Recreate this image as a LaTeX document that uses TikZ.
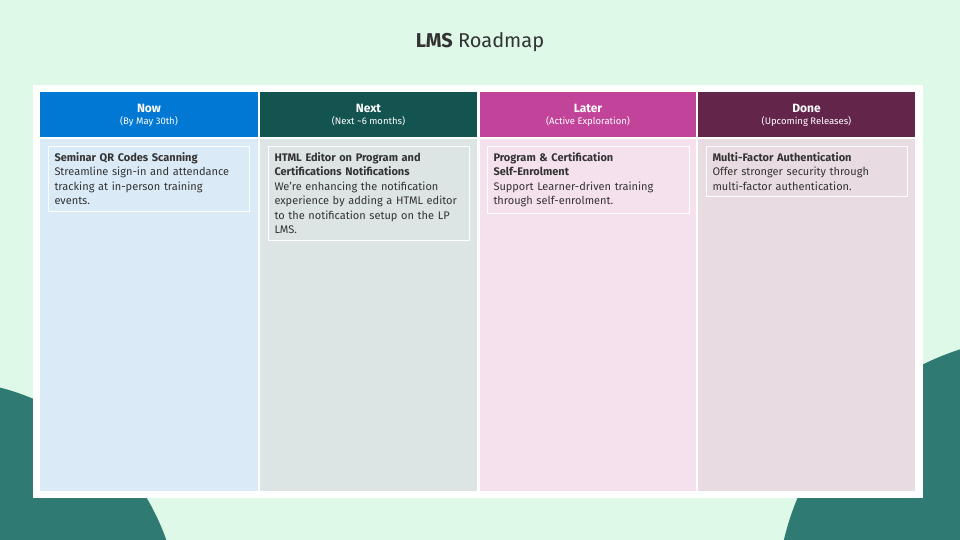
\documentclass[tikz,border=0pt]{standalone}
\usepackage{fontspec}
\setmainfont{Fira Sans}
\definecolor{bg}{HTML}{DFF9E8}
\definecolor{teal}{HTML}{2F7A72}
\definecolor{txt}{HTML}{333333}
\definecolor{hA}{HTML}{0078D4}\definecolor{bA}{HTML}{DAEAF7}
\definecolor{hB}{HTML}{135450}\definecolor{bB}{HTML}{DCE4E4}
\definecolor{hC}{HTML}{C2439A}\definecolor{bC}{HTML}{F5E1EE}
\definecolor{hD}{HTML}{63254A}\definecolor{bD}{HTML}{E8DCE2}
\begin{document}
\begin{tikzpicture}[x=1pt,y=-1pt,
  head/.style={text=white,align=center,font=\fontsize{12}{13}\selectfont},
  card/.style={draw=white,line width=1pt,anchor=north west,align=left,text=txt,inner sep=6pt,text width=190pt,font=\fontsize{11}{14.5}\selectfont}]
\useasboundingbox (0,0) rectangle (960,540);
\fill[bg] (0,0) rectangle (960,540);
\begin{scope}
\clip (0,0) rectangle (960,540);
\fill[teal] (-60,620) circle (240);
\fill[teal] (1040,600) circle (263);
\end{scope}
\node[text=txt,font=\fontsize{20}{24}\selectfont] (title) at (480,42) {\textbf{LMS} Roadmap};
\fill[white] (33,85) rectangle (923,498);
\foreach \c/\x/\w/\n/\s [count=\i] in {A/40/218/Now/(By May 30th),B/260/217/Next/(Next \textasciitilde6 months),C/480/216/Later/(Active Exploration),D/698/217/Done/(Upcoming Releases)}{
  \fill[h\c] (\x,92) rectangle ++(\w,45);
  \fill[b\c] (\x,139) rectangle ++(\w,352);
  \node[head] (h\i) at (\x+\w/2,115) {\textbf{\n}\\[-1pt]{\fontsize{9.5}{11}\selectfont \s}};
}
\node[card,text width=189pt] (c1) at (48,146) {\textbf{Seminar QR Codes Scanning}\\Streamline sign-in and attendance\\tracking at in-person training\\events.};
\node[card,text width=189pt] (c2) at (268,146) {\textbf{HTML Editor on Program and}\\\textbf{Certifications Notifications}\\We're enhancing the notification\\experience by adding a HTML editor\\to the notification setup on the LP\\LMS.};
\node[card,text width=190pt] (c3) at (487,146) {\textbf{Program \& Certification}\\\textbf{Self-Enrolment}\\Support Learner-driven training\\through self-enrolment.};
\node[card,text width=189pt] (c4) at (706,146) {\textbf{Multi-Factor Authentication}\\Offer stronger security through\\multi-factor authentication.};
\end{tikzpicture}
\end{document}
